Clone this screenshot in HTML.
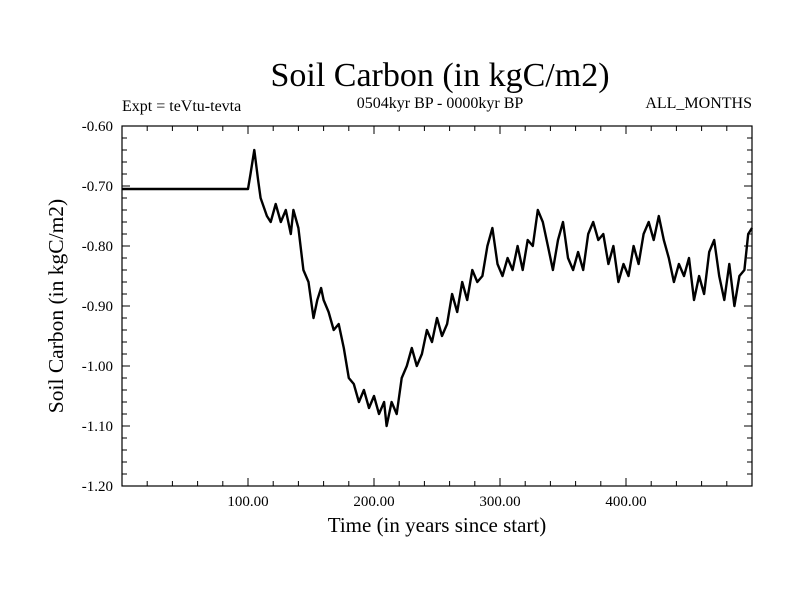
<!DOCTYPE html>
<html><head><meta charset="utf-8"><style>
body{margin:0;background:#fff}
svg text{font-family:"Liberation Serif",serif;fill:#000}
</style></head><body>
<svg width="800" height="600" xmlns="http://www.w3.org/2000/svg">
<rect width="800" height="600" fill="#fff"/>
<text x="440" y="86" font-size="34" text-anchor="middle">Soil Carbon (in kgC/m2)</text>
<text x="440" y="108" font-size="16" text-anchor="middle">0504kyr BP - 0000kyr BP</text>
<text x="122" y="111" font-size="16">Expt = teVtu-tevta</text>
<text x="752" y="108" font-size="16" text-anchor="end">ALL_MONTHS</text>
<g id="axes"></g>
<g id="series"></g>
<text x="437" y="532" font-size="21" text-anchor="middle">Time (in years since start)</text>
<text transform="translate(63,306) rotate(-90)" font-size="21.5" text-anchor="middle">Soil Carbon (in kgC/m2)</text>
</svg>
<script>
const years=[0,100,102,105,108,110,115,118,122,126,130,134,136,140,144,148,152,155,158,160,164,168,172,176,180,184,188,192,196,200,204,208,210,214,218,222,226,230,234,238,242,246,250,254,258,262,266,270,274,278,282,286,290,294,298,302,306,310,314,318,322,326,330,334,338,342,346,350,354,358,362,366,370,374,378,382,386,390,394,398,402,406,410,414,418,422,426,430,434,438,442,446,450,454,458,462,466,470,474,478,482,486,490,494,497,500];
const soilCarbon=[-0.705,-0.705,-0.68,-0.64,-0.69,-0.72,-0.75,-0.76,-0.73,-0.76,-0.74,-0.78,-0.74,-0.77,-0.84,-0.86,-0.92,-0.89,-0.87,-0.89,-0.91,-0.94,-0.93,-0.97,-1.02,-1.03,-1.06,-1.04,-1.07,-1.05,-1.08,-1.06,-1.10,-1.06,-1.08,-1.02,-1.00,-0.97,-1.00,-0.98,-0.94,-0.96,-0.92,-0.95,-0.93,-0.88,-0.91,-0.86,-0.89,-0.84,-0.86,-0.85,-0.80,-0.77,-0.83,-0.85,-0.82,-0.84,-0.80,-0.84,-0.79,-0.80,-0.74,-0.76,-0.80,-0.84,-0.79,-0.76,-0.82,-0.84,-0.81,-0.84,-0.78,-0.76,-0.79,-0.78,-0.83,-0.80,-0.86,-0.83,-0.85,-0.80,-0.83,-0.78,-0.76,-0.79,-0.75,-0.79,-0.82,-0.86,-0.83,-0.85,-0.82,-0.89,-0.85,-0.88,-0.81,-0.79,-0.85,-0.89,-0.83,-0.90,-0.85,-0.84,-0.78,-0.77];
const xTickLabels=["100.00","200.00","300.00","400.00"];
const xTickValues=[100,200,300,400];
const yTickValues=[-0.6,-0.7,-0.8,-0.9,-1.0,-1.1,-1.2];
const yTickLabels=["-0.60","-0.70","-0.80","-0.90","-1.00","-1.10","-1.20"];
const L=122,R=752,T=126,B=486,x0=0,x1=500,y0=-1.2,y1=-0.6;
const xs=v=>L+(v-x0)/(x1-x0)*(R-L);
const ys=v=>B-(v-y0)/(y1-y0)*(B-T);
const NS="http://www.w3.org/2000/svg";
const ax=document.getElementById('axes');
function mk(tag,attrs,parent){const e=document.createElementNS(NS,tag);for(const k in attrs)e.setAttribute(k,attrs[k]);parent.appendChild(e);return e;}
const frame=mk('rect',{x:L,y:T,width:R-L,height:B-T,fill:'none',stroke:'#000','stroke-width':1.2},ax);


for(let v=20;v<500;v+=20){const len=(v%100===0)?8:5;
 const a=mk('line',{x1:xs(v),x2:xs(v),y1:B,y2:B-len,stroke:'#000'},ax);
 
 
 const b=mk('line',{x1:xs(v),x2:xs(v),y1:T,y2:T+len,stroke:'#000'},ax);
 
 }
for(let i=1;i<30;i++){const v=-1.2+i*0.02;const len=(i%5===0)?8:5;
 const a=mk('line',{x1:L,x2:L+len,y1:ys(v),y2:ys(v),stroke:'#000'},ax);
 
 
 const b=mk('line',{x1:R,x2:R-len,y1:ys(v),y2:ys(v),stroke:'#000'},ax);
 
 }
xTickValues.forEach((v,i)=>{const t=mk('text',{x:xs(v),y:506,'font-size':15,'text-anchor':'middle'},ax);t.textContent=xTickLabels[i];
 
 });
yTickValues.forEach((v,i)=>{const t=mk('text',{x:113,y:ys(v)+5,'font-size':15,'text-anchor':'end'},ax);t.textContent=yTickLabels[i];
 
 });
const d=years.map((y,i)=>(i?'L':'M')+xs(y).toFixed(1)+','+ys(soilCarbon[i]).toFixed(1)).join('');
const p=mk('path',{d:d,fill:'none',stroke:'#000','stroke-width':2.4,'stroke-linejoin':'round'},document.getElementById('series'));


</script>
</body></html>
